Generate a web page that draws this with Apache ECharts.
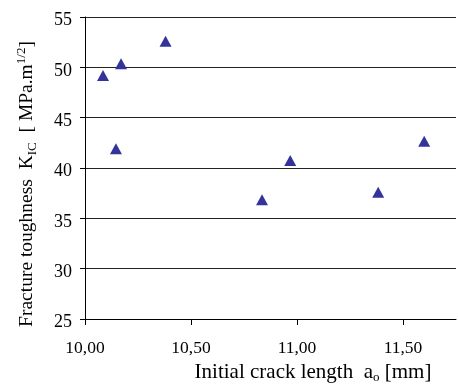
<!DOCTYPE html>
<html>
<head>
<meta charset="utf-8">
<script src="https://cdn.jsdelivr.net/npm/echarts@6/dist/echarts.min.js"></script>
<style>
html,body{margin:0;padding:0;background:#fff;}
#c{width:458px;height:388px;}
</style>
</head>
<body>
<div id="c"></div>
<script>
var crackLength = [10.085, 10.17, 10.38, 10.146, 10.835, 10.968, 11.383, 11.60];
var toughness   = [49.2, 50.35, 52.6, 41.9, 36.85, 40.75, 37.6, 42.65];
var xTicks = [10, 10.5, 11, 11.5];
var yTicks = [25, 30, 35, 40, 45, 50, 55];

var font = 'Liberation Serif';
var chart = echarts.init(document.getElementById('c'));
var pts = crackLength.map(function (x, i) { return [x, toughness[i]]; });
function fmt(v) { return v.toFixed(2).replace('.', ','); }

chart.setOption({
  animation: false,
  backgroundColor: '#fff',
  grid: { left: 85, top: 17, right: 2, bottom: 69 },
  xAxis: {
    type: 'value', min: 10, max: 11.75, interval: 0.5,
    axisLine: { show: true, lineStyle: { color: '#000', width: 1 } },
    axisTick: { show: true, length: 6, customValues: xTicks, lineStyle: { color: '#000' } },
    axisLabel: { customValues: xTicks, formatter: fmt, color: '#000', fontFamily: font, fontSize: 17.5, margin: 20 },
    splitLine: { show: false }
  },
  yAxis: {
    type: 'value', min: 25, max: 55, interval: 5,
    axisLine: { show: true, lineStyle: { color: '#000', width: 1 } },
    axisTick: { show: true, length: 5, lineStyle: { color: '#000' } },
    axisLabel: {
      customValues: yTicks,
      color: '#000', fontFamily: font, fontSize: 18, margin: 13,
      formatter: function (v) { return '{d|' + v + '}'; },
      rich: { d: { fontFamily: font, fontSize: 18, color: '#000', padding: [7, 0, 0, 0] } }
    },
    splitLine: { show: true, lineStyle: { color: '#222', width: 1 } }
  },
  series: [{
    type: 'scatter',
    data: pts,
    symbol: 'triangle',
    symbolSize: [12, 11],
    itemStyle: { color: '#333399', opacity: 1 }
  }],
  graphic: [
    {
      type: 'text', x: 313, y: 372,
      style: {
        text: 'Initial crack length  a{sub|o} [mm]',
        fontFamily: font, fontSize: 21, fill: '#000',
        align: 'center', verticalAlign: 'middle',
        lineHeight: 24,
        rich: { sub: { fontFamily: font, fontSize: 13, lineHeight: 12, verticalAlign: 'bottom', fill: '#000' } }
      }
    },
    {
      type: 'text', x: 27, y: 184, rotation: Math.PI / 2,
      style: {
        text: 'Fracture toughness  K{sub|IC}  [ MPa.m{sup|1/2}]',
        fontFamily: font, fontSize: 19.5, fill: '#000',
        align: 'center', verticalAlign: 'middle',
        lineHeight: 24,
        rich: {
          sub: { fontFamily: font, fontSize: 13, lineHeight: 12, verticalAlign: 'bottom', fill: '#000' },
          sup: { fontFamily: font, fontSize: 13, lineHeight: 12, verticalAlign: 'top', fill: '#000' }
        }
      }
    }
  ]
});
</script>
</body>
</html>
